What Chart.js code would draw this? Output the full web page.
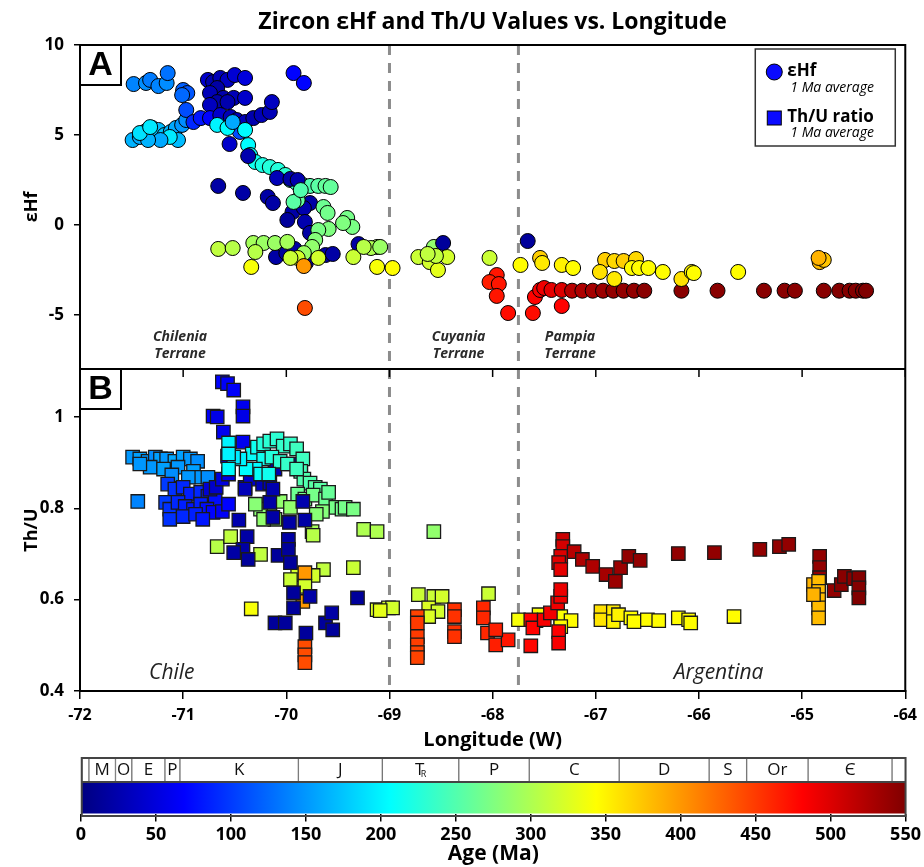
<!DOCTYPE html>
<html>
<head>
<meta charset="utf-8">
<title>Zircon εHf and Th/U Values vs. Longitude</title>
<script src="https://cdn.jsdelivr.net/npm/chart.js@4.4.1/dist/chart.umd.min.js"></script>
<style>
  html, body { margin: 0; padding: 0; background: #fff; }
  canvas { display: block; }
</style>
</head>
<body>
<canvas id="lonChart" width="924" height="752"></canvas>
<canvas id="ageBar" width="924" height="115"></canvas>
<script>
const FONT = "'Open Sans', 'Noto Sans', sans-serif";

// panel A: longitude (W), eHf (1 Ma average), age (Ma)
const hfLon = [
  -71.48, -71.36, -71.32, -71.24, -71.16, -71.15,
  -71.00, -70.96, -71.01,
  -70.76, -70.71, -70.64, -70.57, -70.50, -70.40, -70.67, -70.74, -70.61, -70.51, -70.40, -70.67, -70.57, -70.74, -69.93, -69.83,
  -71.49, -71.42, -71.36, -71.30, -71.24, -71.18, -71.12, -71.07, -71.01, -70.97, -71.05, -71.13, -71.22, -71.34, -71.42, -71.32, -70.97,
  -70.90, -70.83, -70.74, -70.64, -70.54, -70.48, -70.40, -70.32, -70.24, -70.16, -70.14, -70.45, -70.67, -70.57, -70.52, -70.55,
  -70.40, -70.37, -70.35, -70.30, -70.23, -70.16, -70.08, -70.01, -69.96, -69.90, -69.84, -69.77, -69.69, -69.62, -69.57,
  -70.66, -70.42, -70.18, -70.13, -70.37, -70.09, -69.96, -69.89, -69.77, -69.94, -69.83, -69.99, -69.82, -69.77, -70.10, -70.00, -69.92, -69.81, -69.62, -69.55, -69.30,
  -69.89, -69.93, -69.64, -69.60, -69.41, -69.36, -69.45, -69.59, -69.69, -69.72, -69.75, -69.83, -69.86,
  -70.66, -70.52, -70.32, -70.22, -70.11, -69.99, -70.30, -69.89, -69.96, -69.69, -69.35, -69.12, -69.18, -69.25, -69.09,
  -70.34, -69.12, -68.97, -69.82, -69.83,
  -68.72, -68.57, -68.48, -68.61, -68.53, -68.44, -68.55, -68.63, -68.03, -67.96, -68.03, -67.94, -67.96, -67.85,
  -67.73, -67.66, -67.54, -67.52, -67.33, -67.22, -67.61, -67.59, -67.54, -67.50, -67.43, -67.33, -67.33,
  -67.23, -67.13, -67.03, -66.93, -66.83, -66.73, -66.63, -66.53, -66.17, -65.82, -65.37, -65.17, -65.07, -64.79, -64.64, -64.54, -64.48, -64.41, -64.38,
  -66.91, -66.82, -66.73, -66.61, -66.96, -66.65, -66.58, -66.49, -66.35, -66.82, -66.17, -66.07, -66.05, -65.62, -64.83, -64.79, -64.84
];
const hfVal = [
  7.83, 7.89, 8.06, 7.72, 7.89, 8.44,
  7.5, 7.33, 7.22,
  8.06, 7.94, 8.17, 8.06, 8.33, 8.17, 7.61, 7.33, 7.06, 7.06, 7.06, 6.83, 6.83, 6.67, 8.44, 7.89,
  4.72, 4.89, 5.22, 5.39, 5.28, 5.0, 5.17, 5.39, 5.56, 5.83, 4.72, 4.89, 4.72, 4.72, 5.11, 5.44, 6.39,
  5.72, 5.94, 5.94, 6.11, 6.0, 5.83, 5.72, 5.94, 6.11, 6.28, 6.83, 5.17, 5.56, 5.39, 5.72, 4.5,
  5.28, 4.44, 3.89, 3.5, 3.33, 3.22, 3.06, 2.78, 2.5, 2.33, 2.22, 2.17, 2.17, 2.17, 2.11,
  2.17, 1.78, 1.56, 1.22, 3.83, 2.61, 2.56, 2.5, 1.22, 0.72, 0.94, 0.28, 0.17, -0.44, -1.78, -1.56, -1.33, -2.11, -1.67, -1.61, -1.06,
  1.39, 1.28, 1.0, 0.67, 0.39, -0.11, 0.11, -0.22, -0.28, -0.83, -1.22, -1.56, 1.94,
  -1.33, -1.28, -1.0, -1.0, -1.0, -0.94, -1.5, -1.83, -1.83, -1.83, -1.78, -1.22, -1.28, -1.22, -1.22,
  -2.33, -2.33, -2.39, -4.61, -2.28,
  -1.78, -1.22, -1.0, -2.06, -2.5, -1.78, -1.72, -1.61, -1.83, -2.78, -3.17, -3.28, -3.94, -4.89,
  -2.22, -0.89, -1.83, -2.11, -2.22, -2.39, -4.89, -4.0, -3.61, -3.5, -3.61, -3.61, -4.5,
  -3.65, -3.65, -3.65, -3.65, -3.65, -3.65, -3.65, -3.65, -3.65, -3.65, -3.65, -3.65, -3.65, -3.65, -3.65, -3.65, -3.65, -3.65, -3.65,
  -1.94, -2.0, -2.0, -1.89, -2.61, -2.39, -2.39, -2.39, -2.61, -3.0, -3.0, -2.61, -2.67, -2.61, -2.06, -1.94, -1.83
];
const hfAge = [
  140, 145, 135, 140, 145, 130,
  120, 115, 125,
  40, 25, 30, 35, 45, 50, 20, 30, 25, 30, 40, 20, 25, 35, 70, 70,
  165, 160, 165, 160, 170, 175, 165, 160, 150, 145, 170, 195, 160, 165, 190, 195, 110,
  90, 80, 70, 40, 30, 35, 30, 25, 30, 30, 35, 110, 200, 205, 160, 40,
  205, 205, 210, 215, 220, 225, 225, 230, 235, 240, 245, 250, 255, 260, 260,
  20, 20, 20, 20, 25, 30, 20, 25, 20, 20, 25, 15, 25, 20, 20, 15, 20, 15, 20, 20, 20,
  260, 255, 265, 268, 270, 272, 275, 275, 272, 278, 285, 290, 250,
  310, 305, 295, 290, 290, 295, 305, 320, 315, 320, 315, 300, 300, 305, 290,
  340, 340, 345, 440, 400,
  315, 285, 15, 320, 330, 320, 310, 310, 315, 470, 465, 470, 470, 475,
  345, 15, 370, 355, 350, 345, 475, 480, 485, 490, 495, 500, 480,
  520, 525, 530, 535, 540, 540, 540, 545, 545, 545, 545, 545, 545, 545, 548, 548, 548, 548, 550,
  370, 365, 370, 365, 360, 345, 345, 345, 345, 355, 360, 350, 345, 345, 380, 375, 385
];

// panel B: longitude (W), Th/U (1 Ma average), age (Ma)
const thuLon = [
  -70.62, -70.57, -70.51, -70.42, -70.42, -70.71, -70.67, -70.61, -70.42, -70.56, -70.57,
  -71.49, -71.42, -71.34, -71.27, -71.22, -71.16, -71.08, -71.00, -70.93, -70.86, -71.32, -71.19, -71.05, -71.42, -71.11, -70.90, -70.83, -70.76, -70.95, -71.44,
  -71.15, -71.08, -71.00, -70.93, -70.83, -70.76, -70.69, -71.17, -71.13, -71.05, -70.98, -70.90, -70.83, -70.77, -70.71, -70.62, -70.56, -71.13, -71.00, -70.88, -70.81,
  -70.74, -70.68, -70.62, -70.56, -70.40, -70.35, -70.23, -70.16, -70.11, -69.96, -69.86,
  -70.33, -70.28, -70.22, -70.16, -70.09, -70.03, -69.96, -69.90, -69.84, -69.86, -69.83, -69.77, -69.72, -69.67, -70.22, -70.14, -70.06, -69.99, -69.90, -70.30, -70.25, -70.17, -70.39, -70.45, -70.51, -70.56, -70.56,
  -69.89, -69.82, -69.74, -69.62, -69.52, -69.46, -69.43, -69.35, -69.59, -69.65, -69.71, -70.16, -70.06, -69.96, -70.25, -70.30, -70.11, -70.22, -69.75,
  -70.67, -70.54, -70.25, -69.74, -69.25, -69.12, -69.35, -69.64, -69.74, -69.89, -69.96, -69.82, -69.12, -69.01, -70.34, -69.82, -69.84,
  -70.46, -70.38, -70.42, -70.37, -70.51, -70.08, -69.98, -69.98, -69.96, -69.97, -69.82, -69.84, -70.16, -70.13, -70.40, -70.13, -69.93, -69.93, -69.77, -69.31, -70.11, -70.01, -69.62, -69.56, -69.55, -69.81,
  -69.82, -69.82, -69.82,
  -68.57,
  -68.97, -68.72, -68.57, -68.49, -68.62, -68.53, -68.62, -68.04, -69.09,
  -68.73, -68.73, -68.73, -68.73, -68.73, -68.73, -68.37, -68.37, -68.37, -68.37, -68.09, -68.09, -68.05, -67.97, -67.85, -67.97,
  -67.75, -67.55, -67.34, -67.24, -67.34, -67.58,
  -67.63, -67.61, -67.63, -67.50, -67.44, -67.37, -67.34, -67.34, -67.36, -67.36,
  -67.32, -67.32, -67.34, -67.36, -67.34, -67.21, -67.13, -67.03, -66.90, -66.81, -66.76,
  -66.68, -66.57, -66.20, -65.85, -65.41, -65.22, -65.13, -64.83, -64.83, -64.83, -64.69, -64.62, -64.59, -64.50, -64.45, -64.45, -64.45,
  -64.89, -64.84, -64.84, -64.84, -64.84, -64.84, -64.89,
  -66.95, -66.95, -66.83, -66.83, -66.78, -66.66, -66.63, -66.50, -66.39, -66.20, -66.10, -66.08, -65.66
];
const thuVal = [
  1.077, 1.073, 1.059, 1.022, 1.002, 1.002, 1.0, 0.967, 0.945, 0.943, 0.914,
  0.912, 0.908, 0.903, 0.912, 0.908, 0.908, 0.903, 0.912, 0.908, 0.903, 0.890, 0.886, 0.890, 0.897, 0.873, 0.881, 0.868, 0.868, 0.868, 0.815,
  0.853, 0.842, 0.846, 0.831, 0.835, 0.826, 0.820, 0.813, 0.798, 0.813, 0.804, 0.798, 0.809, 0.798, 0.791, 0.793, 0.809, 0.776, 0.782, 0.787, 0.776,
  0.842, 0.846, 0.864, 0.875, 0.846, 0.864, 0.853, 0.855, 0.886, 0.897, 0.886,
  0.919, 0.934, 0.941, 0.947, 0.952, 0.936, 0.941, 0.930, 0.908, 0.881, 0.864, 0.855, 0.846, 0.842, 0.908, 0.912, 0.903, 0.897, 0.886, 0.886, 0.875, 0.875, 0.886, 0.908, 0.912, 0.919, 0.886,
  0.831, 0.820, 0.829, 0.820, 0.802, 0.798, 0.802, 0.798, 0.835, 0.793, 0.787, 0.809, 0.815, 0.802, 0.798, 0.809, 0.776, 0.776, 0.749,
  0.716, 0.738, 0.699, 0.741, 0.754, 0.749, 0.670, 0.666, 0.653, 0.655, 0.644, 0.629, 0.578, 0.582, 0.580, 0.659, 0.596,
  0.774, 0.738, 0.710, 0.688, 0.703, 0.697, 0.732, 0.710, 0.681, 0.769, 0.774, 0.815, 0.813, 0.780, 0.842, 0.842, 0.615, 0.582, 0.607, 0.604, 0.549, 0.549, 0.549, 0.571, 0.534, 0.527,
  0.497, 0.479, 0.462,
  0.749,
  0.582, 0.611, 0.607, 0.607, 0.582, 0.574, 0.563, 0.613, 0.576,
  0.563, 0.549, 0.519, 0.501, 0.484, 0.473, 0.578, 0.563, 0.530, 0.519, 0.582, 0.560, 0.527, 0.501, 0.512, 0.534,
  0.556, 0.567, 0.563, 0.554, 0.541, 0.554,
  0.556, 0.538, 0.499, 0.556, 0.571, 0.593, 0.607, 0.622, 0.530, 0.505,
  0.732, 0.716, 0.695, 0.681, 0.666, 0.705, 0.688, 0.673, 0.655, 0.640, 0.670,
  0.695, 0.686, 0.701, 0.703, 0.710, 0.716, 0.721, 0.695, 0.670, 0.648, 0.620, 0.633, 0.651, 0.646, 0.648, 0.626, 0.604,
  0.633, 0.640, 0.618, 0.600, 0.582, 0.560, 0.611,
  0.574, 0.556, 0.574, 0.552, 0.567, 0.560, 0.552, 0.556, 0.554, 0.560, 0.556, 0.549, 0.563
];
const thuAge = [
  70, 65, 65, 60, 55, 65, 55, 60, 60, 200, 65,
  150, 155, 150, 145, 155, 150, 160, 155, 150, 145, 150, 155, 150, 150, 145, 155, 150, 145, 150, 140,
  100, 95, 90, 85, 90, 80, 75, 100, 95, 90, 85, 80, 85, 75, 70, 65, 70, 95, 90, 85, 80,
  45, 40, 50, 55, 35, 40, 30, 30, 25, 20, 20,
  210, 215, 225, 230, 230, 235, 235, 240, 240, 245, 250, 250, 255, 255, 215, 225, 230, 235, 240, 205, 210, 215, 205, 200, 195, 200, 205,
  265, 270, 270, 265, 270, 268, 270, 272, 262, 278, 280, 280, 285, 285, 282, 280, 285, 285, 295,
  305, 310, 310, 305, 300, 300, 315, 310, 320, 320, 315, 320, 325, 320, 340, 400, 400,
  25, 20, 20, 15, 20, 15, 20, 15, 15, 20, 20, 25, 20, 20, 30, 25, 15, 15, 20, 15, 15, 15, 15, 20, 15, 15,
  440, 440, 440,
  285,
  320, 315, 315, 320, 325, 320, 325, 315, 330,
  445, 450, 450, 448, 445, 445, 455, 455, 455, 455, 460, 460, 460, 465, 470, 465,
  340, 340, 342, 345, 345, 350,
  480, 480, 478, 485, 488, 490, 490, 492, 482, 485,
  510, 505, 500, 498, 495, 520, 525, 525, 530, 535, 535,
  540, 540, 540, 540, 540, 540, 540, 540, 540, 540, 540, 545, 545, 545, 548, 548, 550,
  385, 380, 380, 380, 380, 380, 385,
  360, 358, 355, 350, 350, 345, 345, 345, 345, 345, 345, 345, 345
];

const terraneBounds = [-69, -67.75];
const ageRange = [0, 550];
const periodEdges = [0, 5.3, 23, 33.9, 56, 66, 145, 201, 252, 299, 359, 419, 444, 485, 541, 550];
const periodLabels = ["", "M", "O", "E", "P", "K", "J", "TR", "P", "C", "D", "S", "Or", "Є", ""];

function clamp01(v) { return Math.max(0, Math.min(1, v)); }

function jet(t) {
  const r = clamp01(1.5 - Math.abs(4 * t - 3));
  const g = clamp01(1.5 - Math.abs(4 * t - 2));
  const b = clamp01(1.5 - Math.abs(4 * t - 1));
  return `rgb(${Math.round(r * 255)},${Math.round(g * 255)},${Math.round(b * 255)})`;
}

function ageColor(age) {
  return jet((age - ageRange[0]) / (ageRange[1] - ageRange[0]));
}

function tickFont(size) {
  return { family: FONT, size, weight: "bold" };
}

const panelDecor = {
  id: "panelDecor",
  beforeDatasetsDraw(chart) {
    const { ctx, chartArea: ca, scales: { x } } = chart;
    ctx.save();
    ctx.strokeStyle = "#8c8c8c";
    ctx.lineWidth = 3;
    ctx.setLineDash([10, 8]);
    terraneBounds.forEach((v) => {
      const px = x.getPixelForValue(v);
      ctx.beginPath();
      ctx.moveTo(px, ca.top);
      ctx.lineTo(px, ca.bottom);
      ctx.stroke();
    });
    ctx.restore();
  },
  afterDraw(chart) {
    const { ctx, chartArea: ca, scales: { x, yB } } = chart;
    const split = yB.top;
    ctx.save();

    // frame + panel divider
    ctx.strokeStyle = "#000";
    ctx.lineWidth = 2;
    ctx.strokeRect(ca.left, ca.top, ca.width, ca.height);
    ctx.beginPath();
    ctx.moveTo(ca.left, split);
    ctx.lineTo(ca.right, split);
    ctx.stroke();
    ctx.lineWidth = 1.5;
    x.ticks.forEach((t) => {
      const px = x.getPixelForValue(t.value);
      ctx.beginPath();
      ctx.moveTo(px, split);
      ctx.lineTo(px, split + 8);
      ctx.stroke();
    });

    // panel letters
    [["A", ca.top], ["B", split]].forEach(([letter, top]) => {
      ctx.fillStyle = "#fff";
      ctx.fillRect(ca.left, top, 41, 40);
      ctx.lineWidth = 2;
      ctx.strokeStyle = "#000";
      ctx.strokeRect(ca.left, top, 41, 40);
      ctx.fillStyle = "#000";
      ctx.font = "bold 34px 'Liberation Sans', Arial, sans-serif";
      ctx.textAlign = "center";
      ctx.textBaseline = "middle";
      ctx.fillText(letter, ca.left + 20.5, top + 21);
    });

    // title
    ctx.fillStyle = "#000";
    ctx.font = `bold 23px ${FONT}`;
    ctx.textAlign = "center";
    ctx.textBaseline = "middle";
    ctx.fillText("Zircon εHf and Th/U Values vs. Longitude", (ca.left + ca.right) / 2, 22);

    // terrane names
    ctx.fillStyle = "#2a2a2a";
    ctx.font = `italic bold 14px ${FONT}`;
    [["Chilenia", -71.03], ["Cuyania", -68.33], ["Pampia", -67.25]].forEach(([name, lon]) => {
      const px = x.getPixelForValue(lon);
      ctx.fillText(name, px, split - 32);
      ctx.fillText("Terrane", px, split - 15);
    });

    // country names
    ctx.fillStyle = "#222";
    ctx.font = `italic 21px ${FONT}`;
    ctx.fillText("Chile", x.getPixelForValue(-71.11), yB.getPixelForValue(0.44));
    ctx.fillText("Argentina", x.getPixelForValue(-65.81), yB.getPixelForValue(0.44));

    // legend
    const lx = ca.right - 150, ly = ca.top + 4;
    ctx.fillStyle = "#fff";
    ctx.fillRect(lx, ly, 140, 97);
    ctx.strokeStyle = "#333";
    ctx.lineWidth = 1.5;
    ctx.strokeRect(lx, ly, 140, 97);
    ctx.fillStyle = "#0a0aff";
    ctx.strokeStyle = "#000";
    ctx.lineWidth = 1;
    ctx.beginPath();
    ctx.arc(lx + 19, ly + 23, 8, 0, Math.PI * 2);
    ctx.fill();
    ctx.stroke();
    ctx.fillRect(lx + 12, ly + 62, 14, 14);
    ctx.strokeRect(lx + 12, ly + 62, 14, 14);
    ctx.fillStyle = "#000";
    ctx.textAlign = "left";
    ctx.font = `bold 17px ${FONT}`;
    ctx.fillText("εHf", lx + 32, ly + 22);
    ctx.fillText("Th/U ratio", lx + 32, ly + 68);
    ctx.font = `italic 14px ${FONT}`;
    ctx.fillText("1 Ma average", lx + 35, ly + 39);
    ctx.fillText("1 Ma average", lx + 35, ly + 84);
    ctx.restore();
  }
};

const axisGrid = { drawOnChartArea: false, drawTicks: true, color: "#000", lineWidth: 1.5 };

new Chart(document.getElementById("lonChart"), {
  type: "scatter",
  data: {
    datasets: [
      {
        label: "εHf",
        yAxisID: "yA",
        data: hfLon.map((lon, i) => ({ x: lon, y: hfVal[i] })),
        pointStyle: "circle",
        pointRadius: 7.5,
        borderWidth: 1,
        borderColor: "#000",
        backgroundColor: hfAge.map(ageColor)
      },
      {
        label: "Th/U ratio",
        yAxisID: "yB",
        data: thuLon.map((lon, i) => ({ x: lon, y: thuVal[i] })),
        pointStyle: "rect",
        pointRadius: 9.5,
        borderWidth: 1.3,
        borderColor: "#1a1a1a",
        backgroundColor: thuAge.map(ageColor)
      }
    ]
  },
  options: {
    responsive: false,
    animation: false,
    events: [],
    layout: { padding: { left: 0, right: 18, top: 45, bottom: 0 } },
    plugins: { legend: { display: false }, tooltip: { enabled: false } },
    scales: {
      x: {
        type: "linear",
        min: -72,
        max: -64,
        ticks: { stepSize: 1, font: tickFont(16), color: "#000", padding: 7, maxRotation: 0 },
        grid: { ...axisGrid, tickLength: 8 },
        border: { color: "#000", width: 2 },
        title: { display: true, text: "Longitude (W)", font: tickFont(20), color: "#000", padding: 0 },
        afterFit(s) { s.height = 61; }
      },
      yB: {
        type: "linear",
        position: "left",
        stack: "panels",
        stackWeight: 322,
        min: 0.4,
        max: 1.105,
        ticks: {
          stepSize: 0.2,
          includeBounds: false,
          font: tickFont(17),
          color: "#000",
          padding: 10,
          callback: (v) => String(+v.toFixed(2))
        },
        grid: { ...axisGrid, tickLength: 6 },
        border: { color: "#000", width: 2 },
        title: { display: true, text: "Th/U", font: tickFont(18), color: "#000", padding: { top: 21, bottom: 0 } },
        afterFit(s) { s.width = 80; }
      },
      yA: {
        type: "linear",
        position: "left",
        stack: "panels",
        stackWeight: 324,
        min: -8,
        max: 10,
        ticks: { stepSize: 5, includeBounds: false, font: tickFont(17), color: "#000", padding: 10 },
        grid: { ...axisGrid, tickLength: 6 },
        border: { color: "#000", width: 2 },
        title: { display: true, text: "εHf", font: tickFont(18), color: "#000", padding: { top: 21, bottom: 0 } },
        afterFit(s) { s.width = 80; }
      }
    }
  },
  plugins: [panelDecor]
});

function gradientFill(context) {
  const chart = context.chart;
  const xs = chart.scales.x;
  if (!chart.chartArea || !xs) return "#888";
  const g = chart.ctx.createLinearGradient(xs.getPixelForValue(ageRange[0]), 0, xs.getPixelForValue(ageRange[1]), 0);
  for (let i = 0; i <= 8; i++) g.addColorStop(i / 8, jet(i / 8));
  return g;
}

const periodText = {
  id: "periodText",
  afterDatasetsDraw(chart) {
    const { ctx } = chart;
    const bars = chart.getDatasetMeta(0).data;
    const cbar = chart.getDatasetMeta(1).data[0];
    ctx.save();
    ctx.fillStyle = "#111";
    ctx.textAlign = "center";
    ctx.textBaseline = "middle";
    bars.forEach((bar, i) => {
      const cx = (bar.x + bar.base) / 2;
      const label = periodLabels[i];
      if (label === "TR") {
        ctx.font = `17px ${FONT}`;
        ctx.fillText("T", cx - 1, bar.y);
        ctx.font = `9px ${FONT}`;
        ctx.fillText("R", cx + 3, bar.y + 4);
      } else {
        ctx.font = `17px ${FONT}`;
        ctx.fillText(label, cx, bar.y);
      }
    });
    const top = bars[0].y - bars[0].height / 2;
    const mid = cbar.y - cbar.height / 2;
    const bottom = cbar.y + cbar.height / 2;
    ctx.strokeStyle = "#444";
    ctx.lineWidth = 2;
    ctx.strokeRect(cbar.base, top, cbar.x - cbar.base, bottom - top);
    ctx.beginPath();
    ctx.moveTo(cbar.base, mid);
    ctx.lineTo(cbar.x, mid);
    ctx.stroke();
    ctx.restore();
  }
};

new Chart(document.getElementById("ageBar"), {
  type: "bar",
  data: {
    labels: ["period", "age"],
    datasets: [
      {
        data: periodLabels.map((p, i) => ({ x: [periodEdges[i], periodEdges[i + 1]], y: "period" })),
        backgroundColor: "#fff",
        borderColor: "#777",
        borderWidth: 1,
        borderSkipped: false,
        barThickness: 24,
        grouped: false
      },
      {
        data: [{ x: ageRange, y: "age" }],
        backgroundColor: gradientFill,
        borderWidth: 0,
        barThickness: 34,
        grouped: false
      }
    ]
  },
  options: {
    indexAxis: "y",
    responsive: false,
    animation: false,
    events: [],
    layout: { padding: { left: 81, right: 17, top: 3.5, bottom: 0 } },
    plugins: { legend: { display: false }, tooltip: { enabled: false } },
    scales: {
      x: {
        type: "linear",
        min: ageRange[0],
        max: ageRange[1],
        ticks: { stepSize: 50, font: tickFont(18), color: "#000", padding: 3, maxRotation: 0 },
        grid: { ...axisGrid, tickLength: 8 },
        border: { display: false },
        title: { display: true, text: "Age (Ma)", font: tickFont(21), color: "#000", padding: 0 },
        afterFit(s) { s.height = 53.5; }
      },
      y: { type: "category", display: false, offset: true }
    }
  },
  plugins: [periodText]
});
</script>
</body>
</html>
